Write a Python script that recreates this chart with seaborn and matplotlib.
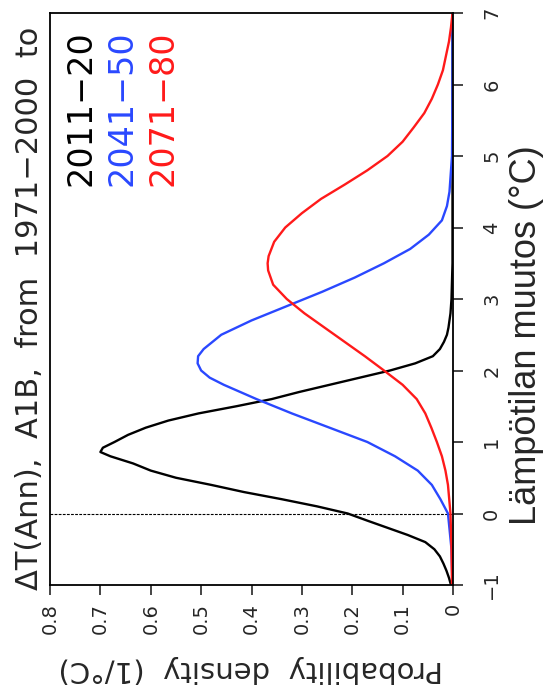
import numpy as np
import pandas as pd
import matplotlib
matplotlib.use("Agg")
import matplotlib.pyplot as plt
import seaborn as sns

# Temperature change (°C) and probability density (1/°C) for each period
black_temp = [-1.0, -0.9, -0.8, -0.7, -0.6, -0.5, -0.4, -0.3, -0.2, -0.1, 0.0, 0.1, 0.2, 0.3,
              0.4, 0.5, 0.6, 0.7, 0.8, 0.86, 0.92, 1.0, 1.1, 1.2, 1.3, 1.4, 1.5, 1.6, 1.7, 1.8,
              1.9, 2.0, 2.1, 2.2, 2.3, 2.4, 2.5, 2.6, 2.8, 3.0, 3.5, 4.0, 5.0, 6.0, 7.0]
black_dens = [0.004, 0.008, 0.013, 0.019, 0.026, 0.037, 0.055, 0.09, 0.13, 0.17, 0.209, 0.27,
              0.34, 0.415, 0.48, 0.55, 0.60, 0.635, 0.68, 0.70, 0.695, 0.672, 0.645, 0.61, 0.565,
              0.505, 0.43, 0.36, 0.305, 0.245, 0.185, 0.125, 0.075, 0.04, 0.026, 0.018, 0.012,
              0.009, 0.005, 0.003, 0.001, 0.001, 0.001, 0.001, 0.001]

blue_temp = [-1.0, -0.5, 0.0, 0.2, 0.4, 0.6, 0.8, 1.0, 1.2, 1.4, 1.6, 1.8, 1.9, 2.0, 2.1, 2.2,
             2.3, 2.5, 2.7, 2.9, 3.1, 3.3, 3.5, 3.7, 3.9, 4.1, 4.3, 4.5, 4.8, 5.0, 6.0, 7.0]
blue_dens = [0.001, 0.003, 0.01, 0.025, 0.042, 0.07, 0.115, 0.17, 0.245, 0.32, 0.39, 0.455,
             0.483, 0.500, 0.507, 0.506, 0.495, 0.46, 0.40, 0.33, 0.26, 0.195, 0.137, 0.085,
             0.048, 0.022, 0.012, 0.007, 0.004, 0.002, 0.001, 0.001]

red_temp = [-1.0, -0.5, 0.0, 0.4, 0.6, 0.8, 1.0, 1.2, 1.4, 1.6, 1.8, 2.0, 2.2, 2.4, 2.6, 2.8,
            3.0, 3.2, 3.4, 3.5, 3.6, 3.8, 4.0, 4.2, 4.4, 4.6, 4.8, 5.0, 5.2, 5.4, 5.6, 5.8,
            6.0, 6.2, 6.4, 6.6, 6.8, 7.0]
red_dens = [0.002, 0.003, 0.005, 0.01, 0.015, 0.022, 0.032, 0.043, 0.055, 0.072, 0.10, 0.137,
            0.175, 0.215, 0.255, 0.295, 0.33, 0.357, 0.367, 0.368, 0.366, 0.355, 0.333, 0.30,
            0.262, 0.215, 0.17, 0.13, 0.10, 0.078, 0.057, 0.042, 0.03, 0.02, 0.014, 0.008,
            0.004, 0.001]

periods = ["2011−20", "2041−50", "2071−80"]
colors = ["#000000", "#2a48ff", "#ff1a1a"]

density_ticks = [0.0, 0.1, 0.2, 0.3, 0.4, 0.5, 0.6, 0.7, 0.8]
density_labels = ["0", "0.1", "0.2", "0.3", "0.4", "0.5", "0.6", "0.7", "0.8"]
temp_ticks = [-1, 0, 1, 2, 3, 4, 5, 6, 7]

title = "ΔT(Ann),  A1B,  from  1971−2000  to"
xlabel = "Lämpötilan muutos (°C)"
ylabel = "Probability  density  (1/°C)"

df = pd.concat([
    pd.DataFrame({"temp": t, "density": d, "period": p})
    for t, d, p in zip([black_temp, blue_temp, red_temp],
                       [black_dens, blue_dens, red_dens], periods)
], ignore_index=True)

sns.set_style("white")
plt.rcParams["font.family"] = ["DejaVu Sans"]

W, H = 548, 693
fig = plt.figure(figsize=(W / 100, H / 100), dpi=100)
fig.patch.set_facecolor("white")
ax = fig.add_axes([50 / W, 1 - 585 / H, 403 / W, 572 / H])

# The panel is laid out on its side: density runs right-to-left, temperature bottom-to-top
sns.lineplot(data=df, x="density", y="temp", hue="period", hue_order=periods,
             palette=dict(zip(periods, colors)), sort=False, estimator=None,
             orient="y", legend=False, linewidth=1.7, ax=ax)

ax.axhline(0, color="black", lw=0.8, ls=(0, (2.5, 1.2)), zorder=1)

ax.set_xlim(0.8, 0.0)
ax.set_ylim(-1, 7)
ax.set_xticks(density_ticks)
ax.set_xticklabels(density_labels)
ax.set_yticks(temp_ticks)
ax.yaxis.tick_right()
ax.set_xlabel("")
ax.set_ylabel("")

for s in ax.spines.values():
    s.set_visible(True)
    s.set_linewidth(1.3)
    s.set_color("black")

ax.tick_params(axis="x", direction="out", length=7, width=1.2, pad=6,
               labelsize=14, labelrotation=90, bottom=True)
ax.tick_params(axis="y", direction="out", length=7, width=1.2, pad=14,
               labelsize=14, labelrotation=90, right=True, left=False)
for lab in ax.get_yticklabels():
    lab.set_verticalalignment("center")

# Title along the left edge
fig.text(30 / W, 1 - 590 / H, title, rotation=90, ha="center", va="bottom",
         fontsize=22)

# Period labels
leg_x = [81, 122, 163]
for p, c, x in zip(periods, colors, leg_x):
    fig.text(x / W, 1 - 30 / H, p, rotation=90, ha="center", va="top",
             fontsize=24, color=c)

# Axis titles
fig.text(251 / W, 1 - 669 / H, ylabel, rotation=180, ha="center", va="center",
         fontsize=21)
fig.text(526 / W, 1 - 335 / H, xlabel, rotation=90, ha="center", va="center",
         fontsize=26, family=["Liberation Sans", "DejaVu Sans"])

fig.savefig("out.png", dpi=100, facecolor="white")
